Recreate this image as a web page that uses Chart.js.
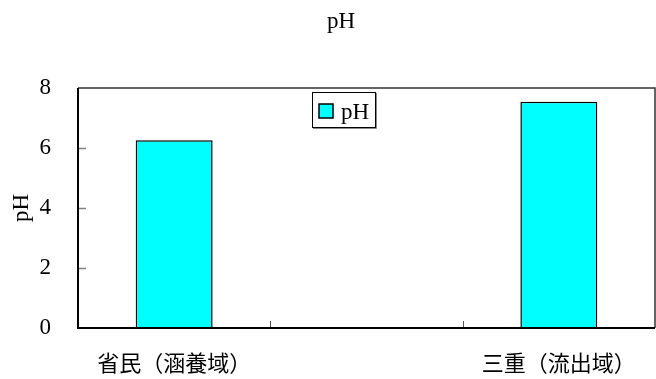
<!DOCTYPE html>
<html>
<head>
<meta charset="utf-8">
<script src="https://cdn.jsdelivr.net/npm/chart.js@4/dist/chart.umd.min.js"></script>
<style>
  html, body { margin: 0; padding: 0; background: #fff; }
  canvas { display: block; }
</style>
</head>
<body>
<canvas id="chart" width="656" height="379"></canvas>
<script>
// sites (middle slot is an empty spacer category)
const categories = ["省民（涵養域）", "", "三重（流出域）"];
const phValues = [6.26, null, 7.54];
const yTicks = [0, 2, 4, 6, 8];

const SERIF = "'Liberation Serif', 'Times New Roman', serif";
const CJK = "'Noto Sans CJK JP', 'Noto Sans CJK SC', sans-serif";

// title, frame, inward tick marks and boxed legend
const framePlugin = {
    id: "frame",
    afterDraw(chart) {
        const { ctx, chartArea: a, scales } = chart;
        ctx.save();

        // chart title
        ctx.fillStyle = "#000";
        ctx.font = "23px " + SERIF;
        ctx.textAlign = "center";
        ctx.textBaseline = "alphabetic";
        ctx.fillText("pH", 341, 28);

        // inward y ticks
        ctx.strokeStyle = "#808080";
        ctx.lineWidth = 1.5;
        yTicks.forEach((v) => {
            if (v === 0 || v === 8) return;
            const y = Math.round(scales.y.getPixelForValue(v)) + 0.5;
            ctx.beginPath();
            ctx.moveTo(a.left, y);
            ctx.lineTo(a.left + 8, y);
            ctx.stroke();
        });

        // category separators on the x axis
        ctx.strokeStyle = "#555";
        ctx.lineWidth = 1;
        for (let i = 0; i < categories.length - 1; i++) {
            const x = Math.round((scales.x.getPixelForTick(i) + scales.x.getPixelForTick(i + 1)) / 2) + 0.5;
            ctx.beginPath();
            ctx.moveTo(x, a.bottom);
            ctx.lineTo(x, a.bottom - 7);
            ctx.stroke();
        }

        // plot border
        ctx.strokeStyle = "#333";
        ctx.lineWidth = 1.5;
        ctx.beginPath();
        ctx.moveTo(a.left, a.top);
        ctx.lineTo(a.right, a.top);
        ctx.lineTo(a.right, a.bottom);
        ctx.stroke();
        ctx.strokeStyle = "#000";
        ctx.lineWidth = 2;
        ctx.beginPath();
        ctx.moveTo(a.left, a.top);
        ctx.lineTo(a.left, a.bottom);
        ctx.lineTo(a.right, a.bottom);
        ctx.stroke();

        // legend
        const ds = chart.data.datasets[0];
        const lx = a.left + 234, ly = a.top + 4;
        ctx.fillStyle = "#fff";
        ctx.fillRect(lx, ly, 64, 36);
        ctx.strokeStyle = "#000";
        ctx.lineWidth = 1;
        ctx.strokeRect(lx + 0.5, ly + 0.5, 63, 35);
        ctx.strokeStyle = "#888";
        ctx.beginPath();
        ctx.moveTo(lx + 1, ly + 36.5);
        ctx.lineTo(lx + 64.5, ly + 36.5);
        ctx.lineTo(lx + 64.5, ly + 1);
        ctx.stroke();
        ctx.fillStyle = ds.backgroundColor;
        ctx.fillRect(lx + 7, ly + 12, 14, 14);
        ctx.strokeStyle = "#000";
        ctx.lineWidth = 1.5;
        ctx.strokeRect(lx + 7, ly + 12, 14, 14);
        ctx.fillStyle = "#000";
        ctx.font = "23px " + SERIF;
        ctx.textBaseline = "alphabetic";
        ctx.textAlign = "left";
        ctx.fillText(ds.label, lx + 29, ly + 27);

        ctx.restore();
    },
};

new Chart(document.getElementById("chart").getContext("2d"), {
    type: "bar",
    data: {
        labels: categories,
        datasets: [{
            label: "pH",
            data: phValues,
            backgroundColor: "#00ffff",
            borderColor: "#000",
            borderWidth: 1.5,
            barPercentage: 0.4,
            categoryPercentage: 1,
        }],
    },
    options: {
        responsive: false,
        animation: false,
        layout: { padding: { left: 0, right: 1, top: 88, bottom: 0 } },
        plugins: {
            legend: { display: false },
            tooltip: { enabled: false },
            title: { display: false },
        },
        scales: {
            x: {
                grid: { display: false },
                border: { display: false },
                ticks: {
                    color: "#000",
                    font: { family: CJK, size: 22 },
                    padding: 13,
                    maxRotation: 0,
                    autoSkip: false,
                },
                afterFit: (s) => { s.height = 51; },
            },
            y: {
                min: 0,
                max: 8,
                afterBuildTicks: (s) => { s.ticks = yTicks.map((v) => ({ value: v })); },
                grid: { display: false },
                border: { display: false },
                ticks: {
                    color: "#000",
                    font: { family: SERIF, size: 23 },
                    padding: 19,
                },
                title: {
                    display: true,
                    text: "pH",
                    color: "#000",
                    font: { family: SERIF, size: 23 },
                    padding: { top: 8, bottom: 0 },
                },
                afterFit: (s) => { s.width = 78; },
            },
        },
    },
    plugins: [framePlugin],
});
</script>
</body>
</html>
